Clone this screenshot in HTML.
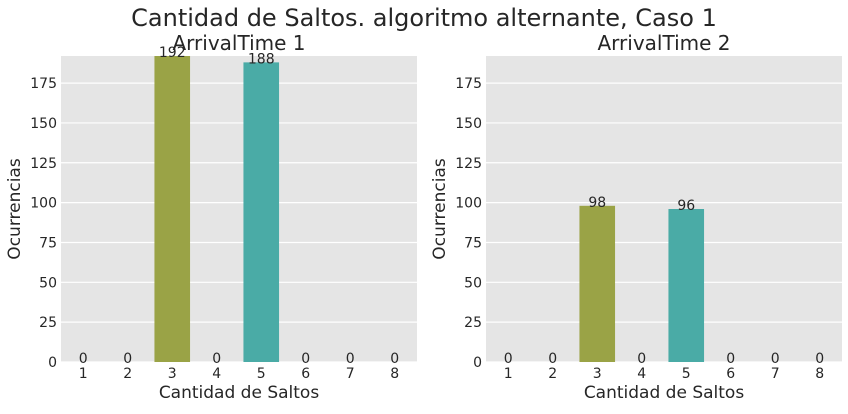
<!DOCTYPE html>
<html><head><meta charset="utf-8"><style>
body{margin:0;background:#fff;width:848px;height:409px;overflow:hidden}
svg{font-family:"DejaVu Sans","Liberation Sans",sans-serif}
</style></head><body>
<svg id="chart" width="848" height="409" xmlns="http://www.w3.org/2000/svg">
<text x="424" y="26" text-anchor="middle" font-size="24" fill="#262626">Cantidad de Saltos. algoritmo alternante, Caso 1</text>
</svg>
<script>
const categories=[1,2,3,4,5,6,7,8];
const series1=[0,0,192,0,188,0,0,0];
const series2=[0,0,98,0,96,0,0,0];
const yTicks=[0,25,50,75,100,125,150,175];
const panelTitles=["ArrivalTime 1","ArrivalTime 2"];
const colors=["#9aa346","#4aaba6"];
const svg=document.getElementById('chart');
const NS='http://www.w3.org/2000/svg';
function mk(t,a,p){const e=document.createElementNS(NS,t);for(const k in a)e.setAttribute(k,a[k]);(p||svg).appendChild(e);return e;}
const yTop=56,yBot=362,yMax=192,W=356;
function yS(v){return yBot-(v/yMax)*(yBot-yTop);}
[[61,series1],[486,series2]].forEach(([x0,data],pi)=>{
  const g=mk('g',{});
  
  
  const bg=mk('rect',{x:x0,y:yTop,width:W,height:yBot-yTop,fill:'#e5e5e5'},g);
  
  
  const bw=W/categories.length;
  function xS(i){return x0+bw*(i+0.5);}
  yTicks.forEach(t=>{
    const l=mk('line',{x1:x0,x2:x0+W,y1:yS(t),y2:yS(t),stroke:'#fff','stroke-width':1.2},g);
    
    
    const tx=mk('text',{x:x0-4,y:yS(t)+5,'text-anchor':'end','font-size':14,fill:'#262626'},g);
    
    
    tx.textContent=t;
  });
  categories.forEach((c,i)=>{
    const tx=mk('text',{x:xS(i),y:378,'text-anchor':'middle','font-size':14,fill:'#262626'},g);
    
    
    tx.textContent=c;
    const v=data[i];
    if(v>0){
      const r=mk('rect',{x:xS(i)-bw*0.4,y:yS(v),width:bw*0.8,height:yBot-yS(v),fill:colors[i===2?0:1]},g);
      
      
    }
    const vl=mk('text',{x:xS(i),y:yS(v)+1,'text-anchor':'middle','font-size':14,fill:'#262626'},g);
    
    
    vl.textContent=v;
  });
  const t=mk('text',{x:x0+W/2,y:50,'text-anchor':'middle','font-size':20,fill:'#262626'},g);
  
  
  t.textContent=panelTitles[pi];
  const xt=mk('text',{x:x0+W/2,y:398,'text-anchor':'middle','font-size':17,fill:'#262626'},g);
  
  
  xt.textContent='Cantidad de Saltos';
  const yt=mk('text',{x:0,y:0,'text-anchor':'middle','font-size':17,fill:'#262626',transform:`translate(${x0-41},${(yTop+yBot)/2}) rotate(-90)`},g);
  
  
  yt.textContent='Ocurrencias';
});
</script>
</body></html>
